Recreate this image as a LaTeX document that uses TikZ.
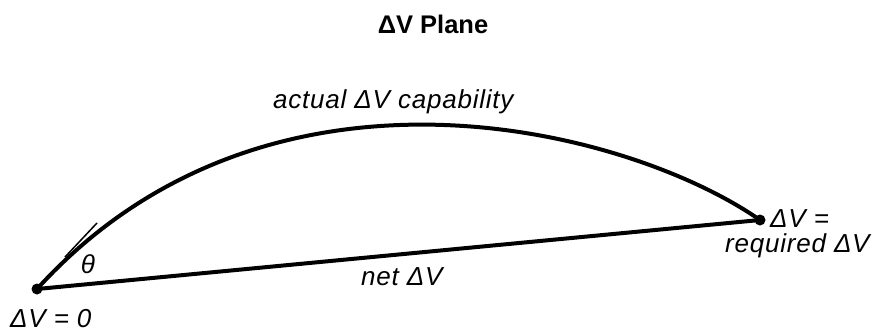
\documentclass[tikz,border=0pt]{standalone}
\usepackage{fontspec}
\setmainfont{Liberation Sans}
\newfontfamily\lblfont[LetterSpace=3]{Liberation Sans}
\begin{document}
\begin{tikzpicture}[x=1pt,y=-1pt,
  heavy/.style={line width=4pt,line cap=round,line join=round},
  thinline/.style={line width=1.5pt},
  dot/.style={circle,fill=black,inner sep=0pt,minimum size=11pt},
  lbl/.style={font=\fontsize{26}{29}\lblfont\itshape,inner sep=0pt},
  ttl/.style={font=\fontsize{25.5}{28}\selectfont\bfseries,inner sep=0pt}]
\useasboundingbox (0,0) rectangle (875,333);
\coordinate (o) at (37,289);
\coordinate (r) at (760,220);
\coordinate (t1) at (65,257);
\coordinate (t2) at (97,223);
\draw[heavy] (o) .. controls (268,35) and (628,128) .. (r);
\draw[heavy] (o) -- (r);
\draw[thinline] (t1) -- (t2);
\node[dot] (od) at (o) {};
\node[dot] (rd) at (r) {};
\node[ttl,anchor=base] (title) at (433,33) {ΔV Plane};
\node[lbl,anchor=base west] (cap) at (273,108) {actual ΔV capability};
\node[lbl,anchor=base west] (net) at (361,285) {net ΔV};
\node[lbl,anchor=base west] (zero) at (10,327) {ΔV = 0};
\node[lbl,anchor=base west] (req1) at (770,227) {ΔV =};
\node[lbl,anchor=base west] (req2) at (725,252) {required ΔV};
\node[lbl,anchor=center] (theta) at (88,264) {θ};
\end{tikzpicture}
\end{document}
